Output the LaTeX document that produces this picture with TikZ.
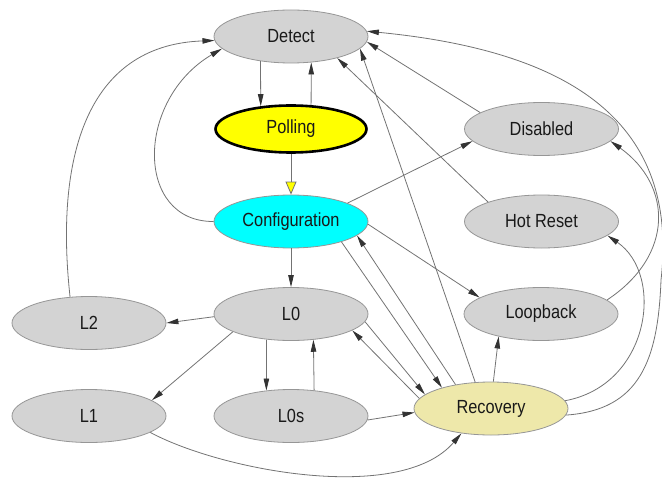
\documentclass[tikz,border=0pt]{standalone}
\usepackage{fontspec}
\setmainfont[FakeStretch=0.86]{Liberation Sans}
\usepackage{xcolor}
\usepackage{tikz}
\usetikzlibrary{shapes,arrows.meta,positioning}
\definecolor{idle}{RGB}{211,211,211}
\definecolor{rim}{RGB}{150,150,150}
\definecolor{wire}{RGB}{115,115,115}
\definecolor{recov}{RGB}{238,232,170}
\definecolor{aqua}{RGB}{0,255,255}
\definecolor{lemon}{RGB}{255,255,0}

\begin{document}
\begin{tikzpicture}[
  x=1bp, y=-1bp,
  node distance=92.5bp and 250bp, on grid,
  state/.style={ellipse,draw=rim,fill=idle,line width=0.8bp,minimum width=154bp,minimum height=53bp,inner sep=0pt,text=black!90,font=\fontsize{19bp}{22bp}\selectfont},
  entry/.style={state,draw=black,fill=lemon,line width=2.6bp,minimum width=151bp,minimum height=47bp},
  cfg/.style={state,fill=aqua},
  rec/.style={state,fill=recov},
  arr/.style={draw=wire,line width=0.8bp,-{Triangle[length=12bp,width=5.5bp,color=black!80,fill=black!80]}},
  yarr/.style={draw=wire,line width=0.8bp,-{Triangle[length=13bp,width=11bp,fill=lemon]}}
]
  \useasboundingbox (0,0) rectangle (662,487);
  \node[state] (detect) at (291,36.5) {Detect};
  \node[entry,below=of detect] (polling) {Polling};
  \node[cfg,below=of polling] (config) {Configuration};
  \node[state,below=of config] (l0) {L0};
  \node[state,below=102bp of l0] (l0s) {L0s};
  \node[state,right=250.5bp of polling] (disabled) {Disabled};
  \node[state,right=250.5bp of config] (hotreset) {Hot Reset};
  \node[state,right=of l0] (loopback) {Loopback};
  \node[state,below left=9bp and 202bp of l0] (l2) {L2};
  \node[state,left=202bp of l0s] (l1) {L1};
  \node[rec,above right=7.5bp and 200bp of l0s] (recovery) {Recovery};

  \draw[arr] (detect.219) -- (polling.143);
  \draw[arr] (polling.50) -- (detect.308);
  \draw[yarr] (polling) -- (config);
  \draw[arr] (config.west) .. controls (135,222) and (135,100) .. (detect.190);
  \draw[arr] (l2.126) .. controls (55,160) and (85,45) .. (detect.183);
  \draw[arr] (config.18) -- (disabled.190);
  \draw[arr] (config) -- (l0);
  \draw[arr] (config.358) -- (loopback.165);
  \draw[arr] (config.338) -- (recovery.157);
  \draw[arr] (recovery.146) -- (config.348);
  \draw[arr] (recovery.121) -- (detect.350);
  \draw[arr] (hotreset.160) -- (detect.335);
  \draw[arr] (disabled.165) -- (detect.356);
  \draw[arr] (recovery.355) .. controls (640,410) and (658,360) .. (661,280)
    .. controls (680,115) and (560,50) .. (detect.4);
  \draw[arr] (recovery.6) .. controls (650,385) and (665,275) .. (hotreset.348);
  \draw[arr] (loopback.12) .. controls (675,255) and (672,185) .. (disabled.350);
  \draw[arr] (recovery.85) -- (loopback.208);
  \draw[arr] (l0.182) -- (l2.east);
  \draw[arr] (l0.197) -- (l1.14);
  \draw[arr] (l0.226) -- (l0s.134);
  \draw[arr] (l0s.48) -- (l0.311);
  \draw[arr] (l0.354) -- (recovery.168);
  \draw[arr] (recovery.172) -- (l0.345);
  \draw[arr] (l0s.357) -- (recovery.183);
  \draw[arr] (l1.345) .. controls (220,470) and (400,505) .. (recovery.220);
\end{tikzpicture}
\end{document}
